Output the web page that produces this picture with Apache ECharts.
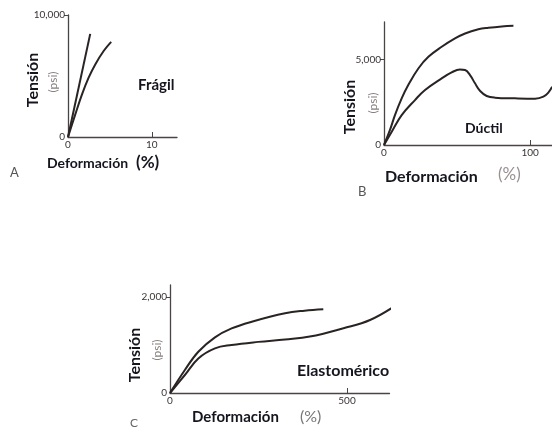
<!DOCTYPE html>
<html>
<head>
<meta charset="utf-8">
<script src="https://cdn.jsdelivr.net/npm/echarts@6/dist/echarts.min.js"></script>
<style>
  html, body { margin: 0; padding: 0; background: #ffffff; }
  #chart { width: 552px; height: 432px; }
</style>
</head>
<body>
<div id="chart"></div>
<script>
// Curvas tensión–deformación: [deformación (%), tensión (psi)]
const fragilRecta = [[0, 0], [2.65, 8450]];
const fragilCurva = [[0, 0], [0.87, 1850], [1.67, 3490], [2.46, 4860], [3.25, 5950], [4.25, 7050], [5.15, 7800]];

const ductilSuperior = [[0, 0], [4.1, 880], [7.5, 1750], [12.1, 2730], [16.6, 3510], [23.5, 4480], [30.4, 5160], [39.5, 5750], [48.6, 6240], [55.5, 6530], [64.6, 6770], [71.4, 6860], [80.6, 6940], [88.6, 6980]];
const ductilInferior = [[0, 0], [5.3, 780], [12.1, 1750], [21.2, 2630], [28.1, 3220], [39.5, 3900], [46.3, 4250], [52, 4420], [55.5, 4390], [58.9, 4090], [62.3, 3610], [65.8, 3160], [70.3, 2870], [76, 2770], [89.7, 2730], [103.4, 2710], [109.1, 2830], [112.6, 3080], [115.1, 3410]];

const elastSuperior = [[0, 0], [42, 480], [80, 860], [127, 1160], [174, 1345], [231, 1485], [325, 1660], [380, 1715], [433, 1745]];
const elastInferior = [[0, 0], [42, 375], [80, 720], [127, 930], [174, 1000], [249, 1065], [325, 1115], [395, 1175], [490, 1350], [565, 1520], [640, 1835]];

// Marcas de los ejes
const ticksXA = [0, 10];
const ticksYA = [0, 10000];
const ticksXB = [0, 100];
const ticksYB = [0, 5000];
const ticksXC = [0, 500];
const ticksYC = [0, 2000];

const ink = '#2a2323';
const axisInk = '#4b4444';
const fontFam = 'Lato, "Open Sans", sans-serif';

function fmt(v) {
  return v === 0 ? '0' : v.toLocaleString('en-US');
}

function xAxis(gridIndex, max, ticks) {
  return {
    type: 'value', gridIndex, min: 0, max,
    splitLine: { show: false },
    axisLine: { lineStyle: { color: axisInk, width: 1.3 } },
    axisTick: { show: true, inside: true, length: 5, customValues: ticks.filter(v => v !== 0), lineStyle: { color: axisInk } },
    axisLabel: { customValues: ticks, formatter: fmt, margin: 3, color: '#3a3434', fontSize: 10, fontFamily: fontFam }
  };
}

function yAxis(gridIndex, max, ticks) {
  return {
    type: 'value', gridIndex, min: 0, max,
    splitLine: { show: false },
    axisLine: { show: true, lineStyle: { color: axisInk, width: 1.3 } },
    axisTick: { show: true, length: 4, customValues: ticks.filter(v => v !== 0), lineStyle: { color: axisInk } },
    axisLabel: { customValues: ticks, formatter: fmt, margin: 3, color: '#3a3434', fontSize: 10, fontFamily: fontFam }
  };
}

function curve(idx, data) {
  return {
    type: 'line', xAxisIndex: idx, yAxisIndex: idx, data,
    smooth: 0.4, showSymbol: false, clip: false,
    lineStyle: { color: ink, width: 2 }
  };
}

function label(text, x, y, opts) {
  const o = opts || {};
  return {
    type: 'text', x, y, rotation: o.rotate ? Math.PI / 2 : 0,
    style: {
      text, fill: o.color || '#15151f', fontSize: o.size || 15,
      fontWeight: o.weight || 'bold', fontFamily: fontFam,
      align: o.align || 'left', verticalAlign: 'middle'
    }
  };
}

const chart = echarts.init(document.getElementById('chart'), null, { renderer: 'canvas' });
chart.setOption({
  backgroundColor: '#ffffff',
  animation: false,
  grid: [
    { left: 68, top: 15, width: 109, height: 122 },
    { left: 384, top: 22, width: 168, height: 123 },
    { left: 170, top: 285, width: 219.5, height: 108 }
  ],
  xAxis: [xAxis(0, 13, ticksXA), xAxis(1, 115, ticksXB), xAxis(2, 620, ticksXC)],
  yAxis: [yAxis(0, 10000, ticksYA), yAxis(1, 7200, ticksYB), yAxis(2, 2250, ticksYC)],
  series: [
    curve(0, fragilRecta), curve(0, fragilCurva),
    curve(1, ductilSuperior), curve(1, ductilInferior),
    curve(2, elastSuperior), curve(2, elastInferior)
  ],
  graphic: [
    // A
    label('Tensión', 33, 80, { rotate: true, align: 'center', size: 16 }),
    label('(psi)', 53, 82, { rotate: true, align: 'center', size: 12, weight: 'normal', color: '#8a8080' }),
    label('Deformación', 47, 163, { size: 14 }),
    label('(%)', 136, 163, { size: 17 }),
    label('Frágil', 138, 85, { size: 15 }),
    label('A', 10, 173, { size: 13, weight: 'normal', color: '#555' }),
    // B
    label('Tensión', 350, 107, { rotate: true, align: 'center', size: 16 }),
    label('(psi)', 373, 103, { rotate: true, align: 'center', size: 12, weight: 'normal', color: '#8a8080' }),
    label('Deformación', 385, 177, { size: 16 }),
    label('(%)', 498, 175, { size: 17, weight: 'normal', color: '#9a9090' }),
    label('Dúctil', 465, 128, { size: 14 }),
    label('B', 358, 192, { size: 13, weight: 'normal', color: '#555' }),
    // C
    label('Tensión', 135, 355, { rotate: true, align: 'center', size: 16 }),
    label('(psi)', 157, 350, { rotate: true, align: 'center', size: 12, weight: 'normal', color: '#8a8080' }),
    label('Deformación', 192, 417, { size: 15 }),
    label('(%)', 300, 417, { size: 16, weight: 'normal', color: '#777' }),
    label('Elastomérico', 297, 371, { size: 16 }),
    label('C', 130, 423, { size: 12, weight: 'normal', color: '#666' })
  ]
});
</script>
</body>
</html>
